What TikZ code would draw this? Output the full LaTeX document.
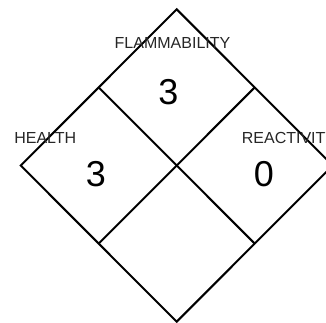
\documentclass[tikz,border=0pt]{standalone}
\usepackage{fontspec}
\setmainfont{Liberation Sans}
\usetikzlibrary{positioning,calc}
\tikzset{
    % Outline of the diamond
    outline/.style={
        draw=black,
        line width=2pt,
        line join=miter
    },
    % Inner dividing lines
    divider/.style={
        draw=black,
        line width=2pt
    },
    % Category name
    category/.style={
        inner sep=0pt,
        anchor=base,
        text=black!85,
        font=\fontsize{16}{16}\selectfont
    },
    % Rating number
    rating/.style={
        inner sep=0pt,
        anchor=base,
        text=black,
        font=\fontsize{36}{36}\selectfont
    }
}

\begin{document}
\begin{tikzpicture}[x=1pt,y=-1pt]

    % ========== FRAME ==========
    \useasboundingbox (0,0) rectangle (326,323);
    \clip (0,0) rectangle (326,323);

    % ========== DIAMOND CORNERS ==========
    \coordinate (top) at (176.7,9.3);
    \coordinate (left) at (20.7,165.5);
    \coordinate (bottom) at (176.7,321.7);
    \coordinate (right) at (332.7,165.5);

    % Edge midpoints
    \coordinate (topleft) at ($(top)!0.5!(left)$);
    \coordinate (topright) at ($(top)!0.5!(right)$);
    \coordinate (bottomleft) at ($(bottom)!0.5!(left)$);
    \coordinate (bottomright) at ($(bottom)!0.5!(right)$);

    % ========== OUTLINE ==========
    \draw[outline] (top) -- (right) -- (bottom) -- (left) -- cycle;

    % ========== DIVIDERS ==========
    \draw[divider] (topleft) -- (bottomright);
    \draw[divider] (topright) -- (bottomleft);

    % ========== LABELS ==========
    \node[category] (flam) at (172.5,48.3) {FLAMMABILITY};
    \node[category] (health) at (45.3,144) {HEALTH};
    \node[category, anchor=base west] (react) at (241.7,144) {REACTIVITY};

    % ========== RATINGS ==========
    \node[rating] (flamval) at (168.3,105) {3};
    \node[rating] (healthval) at (96,186.5) {3};
    \node[rating] (reactval) at (264,186.5) {0};

\end{tikzpicture}
\end{document}
